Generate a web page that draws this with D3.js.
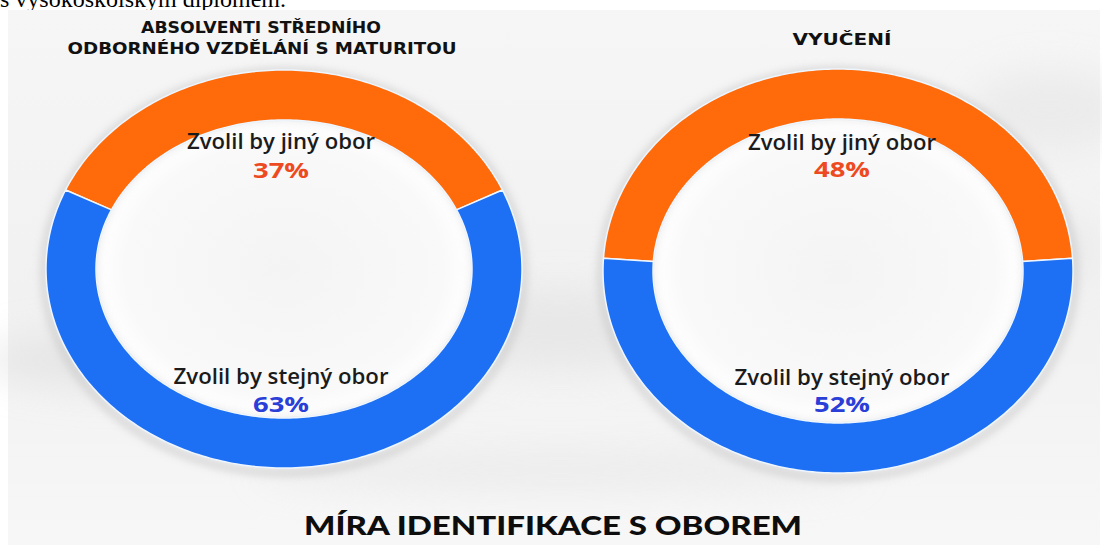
<!DOCTYPE html>
<html><head><meta charset="utf-8">
<script src="https://cdn.jsdelivr.net/npm/d3@7"></script>
<style>html,body{margin:0;padding:0;background:#fff;overflow:hidden}</style>
</head><body>
<svg id="c" width="1102" height="545"></svg>
<script>
const groups = ["ABSOLVENTI STŘEDNÍHO|ODBORNÉHO VZDĚLÁNÍ S MATURITOU", "VYUČENÍ"];
const categories = ["Zvolil by jiný obor", "Zvolil by stejný obor"];
const otherField = [37, 48];
const sameField = [63, 52];
const chartTitle = "MÍRA IDENTIFIKACE S OBOREM";
const topText = "s vysokoškolským diplomem.";

const W = 1102, H = 545;
const svg = d3.select("#c");
const defs = svg.append("defs");

// background
const bg = defs.append("linearGradient").attr("id","bg").attr("x1",0).attr("y1",0).attr("x2",0).attr("y2",1);
bg.append("stop").attr("offset","0%").attr("stop-color","#f6f6f6");
bg.append("stop").attr("offset","55%").attr("stop-color","#f1f1f1");
bg.append("stop").attr("offset","100%").attr("stop-color","#f7f7f7");
const blur = defs.append("filter").attr("id","blur").attr("x","-50%").attr("y","-50%").attr("width","200%").attr("height","200%");
blur.append("feGaussianBlur").attr("stdDeviation",18);
const sh = defs.append("filter").attr("id","sh").attr("x","-20%").attr("y","-20%").attr("width","140%").attr("height","140%");
sh.append("feGaussianBlur").attr("stdDeviation",4);
const inner = defs.append("radialGradient").attr("id","inner");
inner.append("stop").attr("offset","0%").attr("stop-color","#f4f4f4");
inner.append("stop").attr("offset","85%").attr("stop-color","#f9f9f9");
inner.append("stop").attr("offset","100%").attr("stop-color","#ffffff");

svg.append("text").attr("x",0).attr("y",7)
  .attr("font-family","'Liberation Serif', 'Times New Roman', serif")
  .attr("font-size",24).attr("fill","#000").text(topText);

svg.append("rect").attr("x",8).attr("y",10).attr("width",W-10).attr("height",H-10).attr("fill","url(#bg)");
// soft cloud shading
const clouds = svg.append("g").attr("filter","url(#blur)").attr("opacity",0.55);
clouds.append("ellipse").attr("cx",140).attr("cy",360).attr("rx",160).attr("ry",30).attr("fill","#dcdcdc");
clouds.append("ellipse").attr("cx",560).attr("cy",330).attr("rx",120).attr("ry",40).attr("fill","#e0e0e0");
clouds.append("ellipse").attr("cx",980).attr("cy",250).attr("rx",120).attr("ry",40).attr("fill","#e2e2e2");
clouds.append("ellipse").attr("cx",560).attr("cy",470).attr("rx",300).attr("ry",20).attr("fill","#e4e4e4");
clouds.append("ellipse").attr("cx",1050).attr("cy",110).attr("rx",80).attr("ry",40).attr("fill","#e4e4e4");

const colors = d3.scaleOrdinal().domain(categories).range(["#ff6b0b", "#1d6ff3"]);
const pctColors = d3.scaleOrdinal().domain(categories).range(["#ee4a22", "#2a3ed8"]);

const layouts = [
  {cx:284, cy:269, rx:238, ry:199, ldx:-3, labY:[[-120,-91],[115,143]]},
  {cx:838, cy:271, rx:235, ry:202, ldx:4,  labY:[[-121,-94],[114,141]]}
];
const thick = 50;
const labelLen = [188, 215];
const pctLen = 56;

function ellipsePts(a0, a1, rx, ry, n) {
  return d3.range(n + 1).map(i => {
    const a = a0 + (a1 - a0) * i / n;
    return [rx * Math.sin(a), -ry * Math.cos(a)];
  });
}
function ringPath(d, rx, ry) {
  const n = Math.max(8, Math.ceil((d.endAngle - d.startAngle) * 60));
  const outer = ellipsePts(d.startAngle, d.endAngle, rx, ry, n);
  const innerPts = ellipsePts(d.endAngle, d.startAngle, rx - thick, ry - thick, n);
  return d3.line()(outer.concat(innerPts)) + "Z";
}

groups.forEach((g, gi) => {
  const L = layouts[gi];
  const data = [
    {cat: categories[0], v: otherField[gi]},
    {cat: categories[1], v: sameField[gi]}
  ];
  const share = otherField[gi] / (otherField[gi] + sameField[gi]);
  const pie = d3.pie().sort(null).value(d => d.v)
    .startAngle(-share * Math.PI).endAngle(-share * Math.PI + 2 * Math.PI);
  const arcs = pie(data);
  const gg = svg.append("g").attr("transform", `translate(${L.cx},${L.cy})`);
  // shadow
  gg.append("ellipse").attr("cx",0).attr("cy",3).attr("rx",L.rx+2).attr("ry",L.ry+2)
    .attr("fill","none").attr("stroke","#b8b8b8").attr("stroke-width",6).attr("opacity",0.6).attr("filter","url(#sh)");
  gg.append("ellipse").attr("cx",0).attr("cy",0).attr("rx",L.rx-thick-1).attr("ry",L.ry-thick-1)
    .attr("fill","url(#inner)");
  gg.append("ellipse").attr("cx",0).attr("cy",0).attr("rx",L.rx-thick+2).attr("ry",L.ry-thick+2)
    .attr("fill","none").attr("stroke","#c8c8c8").attr("stroke-width",5).attr("opacity",0.5).attr("filter","url(#sh)");
  gg.selectAll("path.seg").data(arcs).join("path").attr("class","seg")
    .attr("d", d => ringPath(d, L.rx, L.ry))
    .attr("fill", d => colors(d.data.cat))
    .attr("stroke", "#eef6ff").attr("stroke-width", 1.5).attr("stroke-linejoin","round");

  // labels
  const font = "'Open Sans', 'Noto Sans', sans-serif";
  arcs.forEach((a, i) => {
    gg.append("text").attr("x",L.ldx).attr("y",L.labY[i][0]).attr("text-anchor","middle")
      .attr("font-family",font).attr("font-weight",600).attr("font-size",21).attr("fill","#1b1b1b")
      .attr("textLength",labelLen[i]).attr("lengthAdjust","spacingAndGlyphs").text(a.data.cat);
    gg.append("text").attr("x",L.ldx).attr("y",L.labY[i][1]).attr("text-anchor","middle")
      .attr("font-family",font).attr("font-weight",700).attr("font-size",21).attr("fill",pctColors(a.data.cat))
      .attr("textLength",pctLen).attr("lengthAdjust","spacingAndGlyphs").text(a.data.v + "%");
  });
});

// group titles
const tf = "'DejaVu Sans', sans-serif";
const leftLines = groups[0].split("|");
svg.append("text").attr("x",261).attr("y",33).attr("text-anchor","middle")
  .attr("font-family",tf).attr("font-weight",700).attr("font-size",16).attr("fill","#111")
  .attr("textLength",240).attr("lengthAdjust","spacingAndGlyphs").text(leftLines[0]);
svg.append("text").attr("x",262).attr("y",54).attr("text-anchor","middle")
  .attr("font-family",tf).attr("font-weight",700).attr("font-size",16).attr("fill","#111")
  .attr("textLength",389).attr("lengthAdjust","spacingAndGlyphs").text(leftLines[1]);
svg.append("text").attr("x",842).attr("y",45).attr("text-anchor","middle")
  .attr("font-family",tf).attr("font-weight",700).attr("font-size",15).attr("fill","#111")
  .attr("textLength",99).attr("lengthAdjust","spacingAndGlyphs").text(groups[1]);

svg.append("text").attr("x",553).attr("y",535).attr("text-anchor","middle")
  .attr("font-family","Lato, 'Open Sans', sans-serif").attr("font-weight",900).attr("font-size",26)
  .attr("fill","#0d0d0d").attr("textLength",498).attr("lengthAdjust","spacingAndGlyphs").text(chartTitle);
</script>
</body></html>
